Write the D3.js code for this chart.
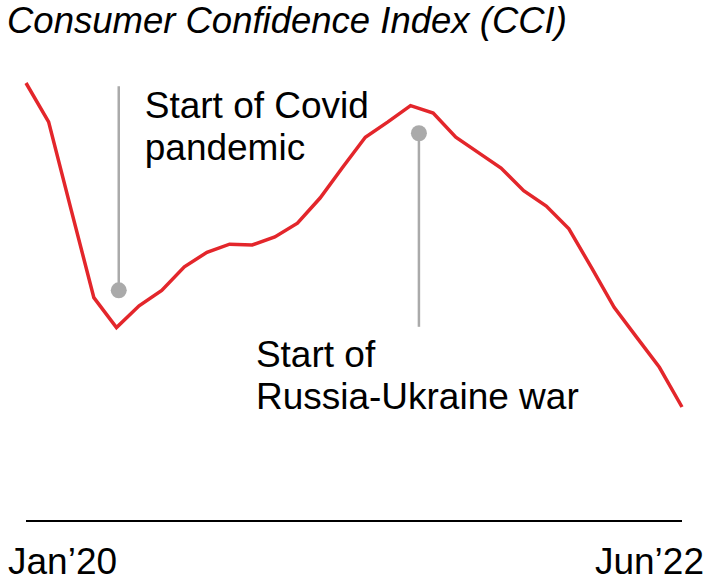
<!DOCTYPE html>
<html>
<head>
<meta charset="utf-8">
<script src="https://cdn.jsdelivr.net/npm/d3@7"></script>
<style>
  html, body { margin: 0; padding: 0; background: #fff; }
  svg { display: block; font-family: "Liberation Sans", Arial, Helvetica, sans-serif; }
</style>
</head>
<body>
<svg id="chart" width="717" height="585"></svg>
<script>
// Monthly Consumer Confidence Index, Jan 2020 – Jun 2022
const months = d3.range(30).map(i => new Date(2020, i, 1));
const cci = [
  101.00, 100.52, 99.43, 98.35, 97.98, 98.25, 98.44, 98.73, 98.91, 99.01,
  99.00, 99.10, 99.27, 99.58, 99.96, 100.33, 100.52, 100.72, 100.63, 100.33,
  100.14, 99.95, 99.67, 99.48, 99.20, 98.72, 98.23, 97.86, 97.49, 97.00
];
const axisLabels = ["Jan\u201920", "Jun\u201922"];

// Event markers: position in months from Jan 2020, dot level and stem end
const eventNames = [["Start of Covid", "pandemic"], ["Start of", "Russia-Ukraine war"]];
const eventPos = [4.1, 17.37];
const eventDot = [98.44, 100.38];
const eventStemEnd = [100.96, 97.99];

const svg = d3.select("#chart");
const x = d3.scaleLinear().domain([0, months.length - 1]).range([26, 682]);
const y = d3.scaleLinear().domain([97, 101]).range([407, 83]);

const fontSize = 37;

// Title
svg.append("text")
  .attr("x", 7).attr("y", 33)
  .attr("font-size", 36.5).attr("font-style", "italic").attr("fill", "#000")
  .text("Consumer Confidence Index (CCI)");

// Baseline axis
const axisY = 521;
svg.append("line")
  .attr("x1", x(0)).attr("x2", x(months.length - 1))
  .attr("y1", axisY).attr("y2", axisY)
  .attr("stroke", "#000").attr("stroke-width", 2);

svg.append("text").attr("x", 8).attr("y", 574)
  .attr("font-size", fontSize).attr("fill", "#000").text(axisLabels[0]);
svg.append("text").attr("x", 704).attr("y", 574)
  .attr("font-size", fontSize).attr("fill", "#000").attr("text-anchor", "end").text(axisLabels[1]);

// Event stems and dots
eventPos.forEach((p, i) => {
  svg.append("line")
    .attr("x1", x(p)).attr("x2", x(p))
    .attr("y1", y(eventStemEnd[i])).attr("y2", y(eventDot[i]))
    .attr("stroke", "#aaaaaa").attr("stroke-width", 2.5);
  svg.append("circle")
    .attr("cx", x(p)).attr("cy", y(eventDot[i])).attr("r", 8)
    .attr("fill", "#aaaaaa");
});

// Event labels
const labelOffsets = [{dx: 26, y0: 118}, {dx: -163, y0: 367}];
eventNames.forEach((lines, i) => {
  const t = svg.append("text")
    .attr("font-size", fontSize).attr("fill", "#000");
  lines.forEach((s, j) => {
    t.append("tspan")
      .attr("x", x(eventPos[i]) + labelOffsets[i].dx)
      .attr("y", labelOffsets[i].y0 + j * 42)
      .text(s);
  });
});

// CCI line
const line = d3.line()
  .x((d, i) => x(i))
  .y(d => y(d));
svg.append("path")
  .datum(cci)
  .attr("d", line)
  .attr("fill", "none")
  .attr("stroke", "#e3262b")
  .attr("stroke-width", 3.5)
  .attr("stroke-linejoin", "miter");
</script>
</body>
</html>
